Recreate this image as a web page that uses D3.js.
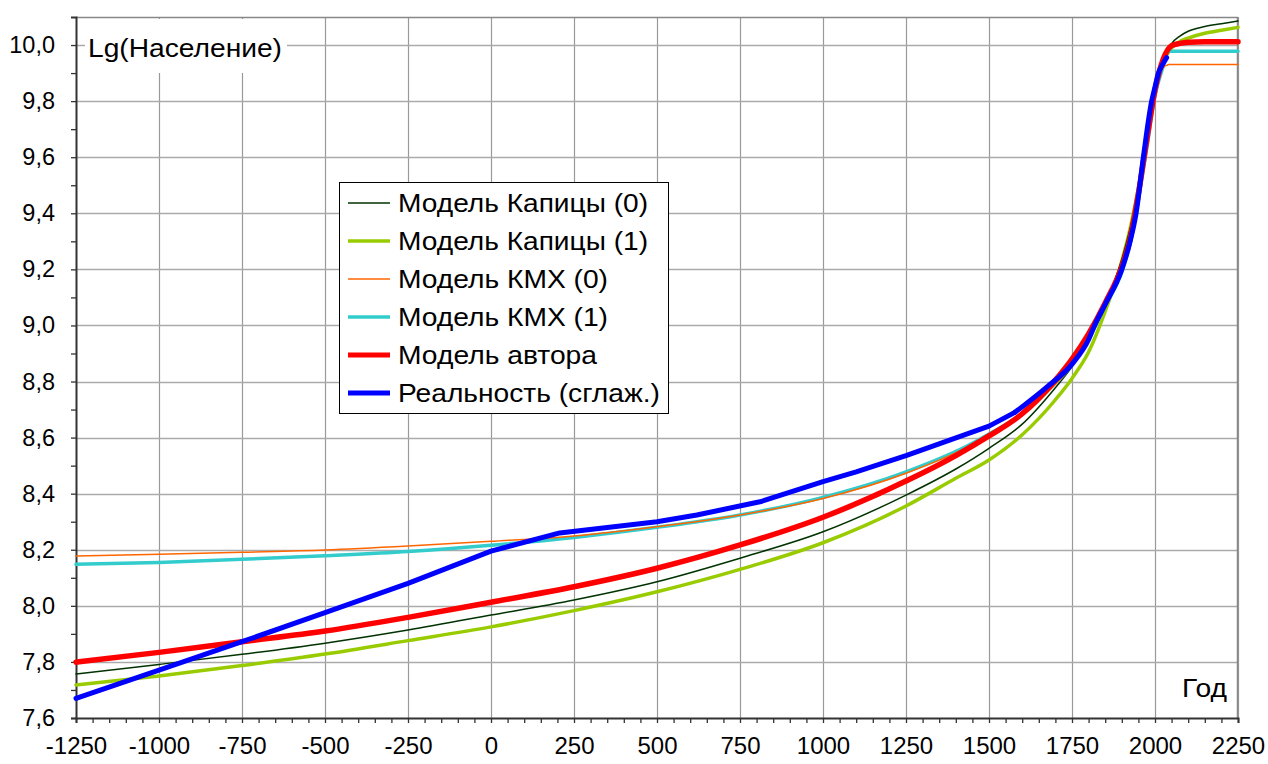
<!DOCTYPE html>
<html><head><meta charset="utf-8">
<script src="https://cdn.jsdelivr.net/npm/d3@7"></script>
<style>body{margin:0;background:#fff}svg{display:block}text{font-family:"Liberation Sans",Arial,sans-serif;fill:#000}</style>
</head><body>
<svg id="c" width="1268" height="764"></svg>
<script>
// ---- data ----
const yearsModel = [-1250,-1000,-750,-500,-250,0,250,500,750,1000,1250,1400,1500,1600,1700,1750,1800,1850,1900,1925,1950,1975,2000,2025,2050,2075,2100,2150,2200,2250];
const kapitsa0 = [7.757,7.791,7.827,7.867,7.914,7.967,8.021,8.086,8.170,8.264,8.395,8.488,8.562,8.648,8.778,8.853,8.955,9.075,9.235,9.345,9.48,9.66,9.84,9.945,10.005,10.032,10.049,10.066,10.076,10.086];
const kapitsa1 = [7.718,7.750,7.787,7.828,7.876,7.925,7.983,8.050,8.130,8.225,8.356,8.455,8.520,8.610,8.735,8.811,8.905,9.050,9.230,9.345,9.49,9.67,9.84,9.940,9.990,10.013,10.025,10.042,10.053,10.063];
const red = [7.799,7.834,7.872,7.910,7.959,8.013,8.068,8.134,8.217,8.316,8.445,8.536,8.606,8.685,8.805,8.880,8.970,9.080,9.210,9.310,9.47,9.66,9.84,9.950,9.998,10.006,10.010,10.012,10.012,10.012];
const yearsKMX1 = [-1250,-1000,-750,-500,-250,0,250,500,750,1000,1250,1450,1500,1600,1700,1750,1800,1850,1900,1925,1950,1975,2000,2025,2037,2041,2100,2250];
const kmx1 = [8.148,8.155,8.166,8.179,8.194,8.216,8.244,8.280,8.324,8.387,8.478,8.580,8.613,8.685,8.795,8.858,8.950,9.070,9.190,9.290,9.450,9.630,9.820,9.925,9.972,9.978,9.978,9.978];
const yearsKMX0 = [-1250,-1000,-750,-500,-250,0,250,500,750,1000,1250,1450,1500,1600,1700,1750,1800,1850,1900,1925,1950,1975,2000,2025,2038,2042,2100,2250];
const kmx0 = [8.178,8.184,8.191,8.199,8.213,8.230,8.249,8.282,8.324,8.383,8.473,8.575,8.608,8.680,8.790,8.855,8.950,9.070,9.210,9.300,9.470,9.660,9.850,9.920,9.929,9.931,9.931,9.931];
// smoothed reality: straight pieces up to 1578, smooth growth afterwards
const yearsReal = [-1250,-1000,-750,-500,-250,0,207,500,620,810,1000,1100,1250,1500,1578,1674,1750,1800,1818,1850,1900,1925,1943,1965,1990,2000,2010,2025,2035];
const reality = [7.670,7.771,7.872,7.976,8.080,8.195,8.260,8.300,8.324,8.371,8.443,8.478,8.536,8.641,8.690,8.780,8.862,8.950,9.000,9.075,9.200,9.300,9.400,9.600,9.800,9.850,9.899,9.935,9.955];
const realityBreakYear = 1578;

const seriesNames = ["Модель Капицы (0)","Модель Капицы (1)","Модель КМХ (0)","Модель КМХ (1)","Модель автора","Реальность (сглаж.)"];
const xTicks = [-1250,-1000,-750,-500,-250,0,250,500,750,1000,1250,1500,1750,2000,2250];
const yTicks = [7.6,7.8,8.0,8.2,8.4,8.6,8.8,9.0,9.2,9.4,9.6,9.8,10.0];
const yTitle = "Lg(Население)";
const xTitle = "Год";

// ---- chart ----
const svg = d3.select("#c");
const L=76,R=1238,T=17,B=718;
const x = d3.scaleLinear().domain([-1250,2250]).range([L,R]);
const y = d3.scaleLinear().domain([7.6,10.1]).range([B,T]);

// grid
const g = svg.append("g");
g.selectAll("line.v").data(xTicks.slice(1)).join("line")
  .attr("x1",d=>Math.round(x(d))+0.5).attr("x2",d=>Math.round(x(d))+0.5).attr("y1",T).attr("y2",B)
  .attr("stroke","#999").attr("stroke-width",1.2);
g.selectAll("line.h").data(yTicks.slice(1)).join("line")
  .attr("y1",d=>Math.round(y(d))+0.5).attr("y2",d=>Math.round(y(d))+0.5).attr("x1",L).attr("x2",R)
  .attr("stroke","#aaa").attr("stroke-width",1.4);
svg.append("line").attr("x1",L).attr("x2",R).attr("y1",T+0.5).attr("y2",T+0.5).attr("stroke","#888").attr("stroke-width",1.5);
svg.append("line").attr("x1",R-0.5).attr("x2",R-0.5).attr("y1",T).attr("y2",B).attr("stroke","#888").attr("stroke-width",1.5);

// title boxes
svg.append("rect").attr("x",85).attr("y",T+2).attr("width",202).attr("height",54).attr("fill","#fff");
svg.append("text").attr("x",88).attr("y",57).attr("font-size",25)
  .attr("textLength",194).attr("lengthAdjust","spacingAndGlyphs").text(yTitle);
svg.append("rect").attr("x",1177).attr("y",670).attr("width",56).attr("height",36).attr("fill","#fff");
svg.append("text").attr("x",1182).attr("y",697).attr("font-size",25)
  .attr("textLength",45).attr("lengthAdjust","spacingAndGlyphs").text(xTitle);

// axes
const fmt = d=>d3.format(".1f")(d).replace(".",",");
const yAxis = d3.axisLeft(y).tickValues(d3.range(76,101).map(v=>v/10)).tickSize(5)
  .tickFormat(d=>yTicks.some(t=>Math.abs(t-d)<1e-6)?fmt(d):"");
const ya = svg.append("g").attr("transform",`translate(${L},0)`).call(yAxis);
ya.select(".domain").attr("stroke","#333").attr("stroke-width",2);
ya.selectAll(".tick line").attr("stroke","#333").attr("stroke-width",1.3);
ya.selectAll("text").attr("font-size",23.5).attr("x",-21).attr("fill","#000").style("font-family","'Liberation Sans',Arial,sans-serif");

const xAxis = d3.axisBottom(x).tickValues(d3.range(-1250,2251,50)).tickSize(5)
  .tickFormat(d=>xTicks.includes(d)?String(d):"");
const xa = svg.append("g").attr("transform",`translate(0,${B})`).call(xAxis);
xa.select(".domain").attr("stroke","#333").attr("stroke-width",2);
xa.selectAll(".tick line").attr("stroke","#333").attr("stroke-width",1.3);
xa.selectAll("text").attr("font-size",24).attr("y",19).attr("fill","#000").style("font-family","'Liberation Sans',Arial,sans-serif");

// lines
const series = [
  {xs:yearsModel, ys:kapitsa1, color:"#99cc00", w:3.5},
  {xs:yearsModel, ys:kapitsa0, color:"#003300", w:1.5},
  {xs:yearsKMX1, ys:kmx1, color:"#33cccc", w:3.5},
  {xs:yearsKMX0, ys:kmx0, color:"#ff6600", w:1.5},
  {xs:yearsModel, ys:red, color:"#ff0000", w:5.5}
];
const plot = svg.append("g");
const lineSmooth = d3.line().x(d=>x(d[0])).y(d=>y(d[1])).curve(d3.curveMonotoneX);
const lineStraight = d3.line().x(d=>x(d[0])).y(d=>y(d[1])).curve(d3.curveLinear);
series.forEach(s=>{
  const pts = s.xs.map((v,i)=>[v,s.ys[i]]);
  plot.append("path").datum(pts).attr("d",lineSmooth)
    .attr("fill","none").attr("stroke",s.color).attr("stroke-width",s.w)
    .attr("stroke-linejoin","round").attr("stroke-linecap","round");
});
const realPts = yearsReal.map((v,i)=>[v,reality[i]]);
[[realPts.filter(d=>d[0]<=realityBreakYear), lineStraight],
 [realPts.filter(d=>d[0]>=realityBreakYear), lineSmooth]].forEach(([pts,gen])=>{
  plot.append("path").datum(pts).attr("d",gen)
    .attr("fill","none").attr("stroke","#0000ff").attr("stroke-width",5)
    .attr("stroke-linejoin","round").attr("stroke-linecap","round");
});

// legend
const legend = svg.append("g");
legend.append("rect").attr("x",339.5).attr("y",182.5).attr("width",329).attr("height",231)
  .attr("fill","#fff").attr("stroke","#000").attr("stroke-width",1);
const legColors = ["#003300","#99cc00","#ff6600","#33cccc","#ff0000","#0000ff"];
const legWidths = [1.5,3.5,1.5,3.5,5,5];
const legTextLen = [250,250,210,210,199,262];
seriesNames.forEach((name,i)=>{
  const cy = 203 + i*38;
  legend.append("line").attr("x1",348).attr("x2",390).attr("y1",cy).attr("y2",cy)
    .attr("stroke",legColors[i]).attr("stroke-width",legWidths[i]);
  legend.append("text").attr("x",398).attr("y",cy+9).attr("font-size",25)
    .attr("textLength",legTextLen[i]).attr("lengthAdjust","spacingAndGlyphs").text(name);
});
</script>
</body></html>
